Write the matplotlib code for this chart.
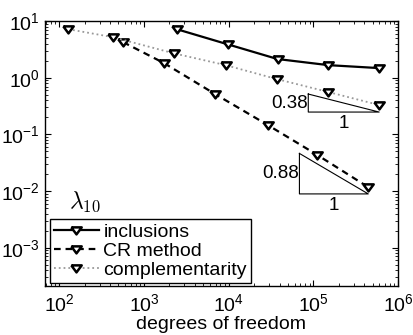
import matplotlib
matplotlib.use("Agg")
import matplotlib.pyplot as plt
import numpy as np

plt.rcParams['font.family'] = ['Liberation Sans', 'DejaVu Sans']
plt.rcParams['mathtext.fontset'] = 'custom'
plt.rcParams['mathtext.rm'] = 'Liberation Sans'
plt.rcParams['mathtext.it'] = 'Liberation Sans:italic'

# data
incl_dof = [2440, 9700, 37700, 150000, 597000]
incl_val = [7.2, 3.9, 2.14, 1.67, 1.48]
cr_dof = [566, 1720, 6840, 28800, 111000, 444000]
cr_val = [4.26, 1.82, 0.52, 0.147, 0.0434, 0.0117]
comp_dof = [128, 431, 2250, 9200, 36700, 150000, 597000]
comp_val = [7.2, 5.2, 2.7, 1.67, 0.95, 0.56, 0.33]
labels = ['inclusions', 'CR method', 'complementarity']
slopes = [0.38, 0.88]

fig = plt.figure(figsize=(4.13, 3.35), dpi=100)
ax = fig.add_axes([0.109, 0.146, 0.855, 0.791])

tri_marker = [(-1, 0.6), (1, 0.6), (0, -0.75), (-1, 0.6)]
mk = dict(marker=tri_marker, markersize=7.5, markerfacecolor='white',
          markeredgecolor='black', markeredgewidth=1.8)
ax.loglog(incl_dof, incl_val, '-', color='black', lw=1.6, label=labels[0], **mk)
ax.loglog(cr_dof, cr_val, color='black', lw=1.6, dashes=(3, 2.2), label=labels[1], **mk)
ax.loglog(comp_dof, comp_val, ':', color='#999999', lw=1.3, label=labels[2], **mk)

ax.set_xlim(68, 1e6)
ax.set_ylim(2.1e-4, 10)

# slope triangles
def tri(x0, x1, ybot, s, lab):
    ytop = ybot * (x1 / x0) ** s
    ax.plot([x0, x0, x1, x0], [ytop, ybot, ybot, ytop], color='black', lw=0.8)
    ax.text(x0 / 1.02, np.sqrt(ytop * ybot), lab, ha='right', va='center', fontsize=13.5)
    ax.text(np.sqrt(x0 * x1), ybot / 1.13, '1', ha='center', va='top', fontsize=13.5)

tri(87000, 597000, 0.248, slopes[0], '0.38')
tri(68400, 444000, 0.0089, slopes[1], '0.88')

ax.text(132, 6.5e-3, r'$\lambda_{10}$', math_fontfamily='cm', fontsize=17, ha='left', va='center')

ax.tick_params(which='both', direction='in', top=True, right=True, labelsize=14)
ax.tick_params(axis='x', which='major', pad=5)
ax.tick_params(which='major', length=4.5, width=0.8)
ax.tick_params(which='minor', length=2.2, width=0.6)
for s in ax.spines.values():
    s.set_linewidth(1.0)

leg = ax.legend(loc='lower left', bbox_to_anchor=(0.014, 0.011), borderaxespad=0,
                fontsize=14, fancybox=False, edgecolor='black', framealpha=1,
                handlelength=2.3, labelspacing=0.08, borderpad=0.2, handletextpad=0.25)
leg.get_frame().set_linewidth(1.0)

ax.set_xlabel('degrees of freedom', fontsize=14)
ax.xaxis.set_label_coords(0.497, -0.113)

fig.savefig('out.png', dpi=100)
